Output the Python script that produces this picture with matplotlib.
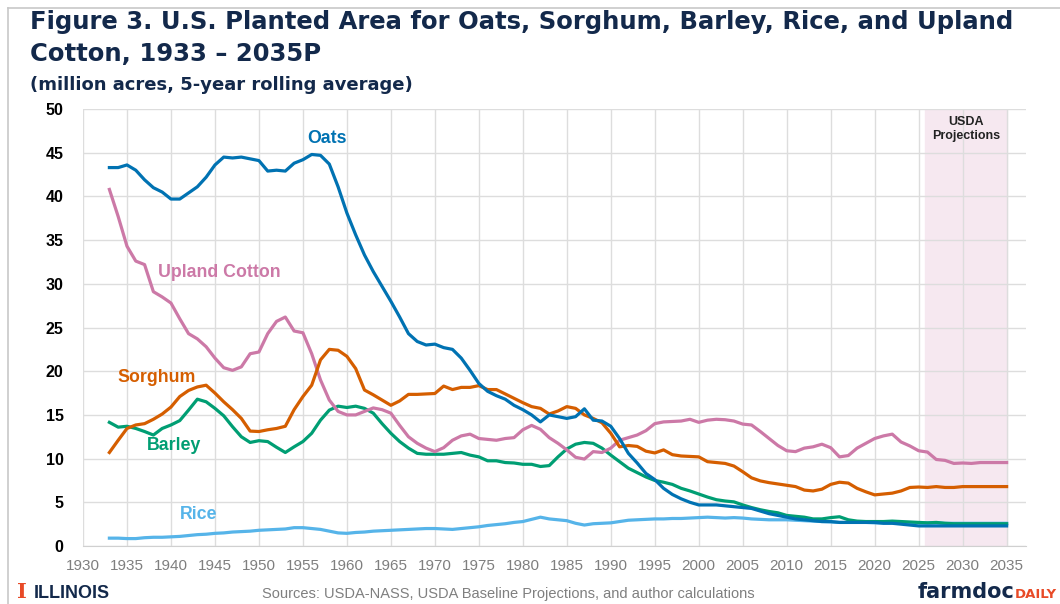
import matplotlib
matplotlib.use("Agg")
import matplotlib.pyplot as plt
from matplotlib.lines import Line2D

years = list(range(1933, 2036))

oats = [43.3, 43.3, 43.6, 43.0, 41.9, 41.0, 40.5, 39.7, 39.7, 40.4,
        41.1, 42.2, 43.6, 44.5, 44.4, 44.5, 44.3, 44.1, 42.9, 43.0,
        42.9, 43.8, 44.2, 44.8, 44.7, 43.7, 41.1, 38.1, 35.6, 33.3,
        31.4, 29.7, 28.0, 26.2, 24.3, 23.4, 23.0, 23.1, 22.7, 22.5,
        21.5, 20.1, 18.6, 17.7, 17.2, 16.8, 16.1, 15.6, 15.0, 14.2,
        15.0, 14.8, 14.6, 14.8, 15.7, 14.4, 14.3, 13.7, 12.3, 10.6,
        9.5, 8.3, 7.6, 6.6, 5.9, 5.4, 5.0, 4.7, 4.7, 4.7,
        4.6, 4.5, 4.4, 4.3, 4.0, 3.7, 3.5, 3.3, 3.1, 3.0,
        2.9, 2.8, 2.8, 2.7, 2.7, 2.7, 2.7, 2.7, 2.6, 2.6,
        2.5, 2.4, 2.3, 2.3, 2.3, 2.3, 2.3, 2.3, 2.3, 2.3,
        2.3, 2.3, 2.3]

cotton = [40.8, 37.7, 34.3, 32.6, 32.2, 29.1, 28.5, 27.8, 26.0, 24.3,
          23.7, 22.8, 21.5, 20.4, 20.1, 20.5, 22.0, 22.2, 24.3, 25.7,
          26.2, 24.6, 24.4, 22.0, 19.0, 16.7, 15.4, 15.0, 15.0, 15.4,
          15.8, 15.6, 15.2, 13.8, 12.5, 11.75, 11.2, 10.8, 11.25, 12.1,
          12.6, 12.8, 12.3, 12.2, 12.1, 12.3, 12.4, 13.3, 13.8, 13.35,
          12.4, 11.75, 11.0, 10.15, 9.95, 10.8, 10.7, 11.2, 12.1, 12.4,
          12.7, 13.2, 14.0, 14.2, 14.25, 14.3, 14.5, 14.15, 14.4, 14.5,
          14.45, 14.3, 13.95, 13.85, 13.1, 12.3, 11.5, 10.9, 10.8, 11.2,
          11.35, 11.65, 11.25, 10.2, 10.35, 11.2, 11.75, 12.3, 12.6, 12.8,
          11.9, 11.45, 10.9, 10.75, 9.9, 9.8, 9.45, 9.5, 9.45, 9.55,
          9.55, 9.55, 9.55]

sorghum = [10.7, 12.1, 13.45, 13.85, 14.0, 14.5, 15.1, 15.9, 17.1, 17.8,
           18.2, 18.4, 17.5, 16.5, 15.6, 14.6, 13.15, 13.1, 13.3, 13.45,
           13.7, 15.6, 17.1, 18.4, 21.3, 22.5, 22.4, 21.7, 20.3, 17.85,
           17.3, 16.7, 16.1, 16.6, 17.35, 17.35, 17.4, 17.45, 18.3, 17.9,
           18.15, 18.15, 18.35, 17.9, 17.9, 17.4, 16.9, 16.4, 15.95, 15.75,
           15.1, 15.45, 15.95, 15.75, 15.0, 14.6, 14.1, 12.9, 11.35, 11.5,
           11.4, 10.85, 10.65, 11.0, 10.45, 10.3, 10.25, 10.2, 9.65, 9.55,
           9.45, 9.15, 8.5, 7.8, 7.45, 7.25, 7.1, 6.95, 6.8, 6.4,
           6.3, 6.5, 7.05, 7.3, 7.2, 6.6, 6.2, 5.85, 5.95, 6.05,
           6.3, 6.7, 6.75, 6.7, 6.8, 6.7, 6.7, 6.8, 6.8, 6.8,
           6.8, 6.8, 6.8]

barley = [14.15, 13.6, 13.7, 13.45, 13.1, 12.7, 13.45, 13.85, 14.35, 15.55,
          16.8, 16.5, 15.75, 14.9, 13.65, 12.5, 11.85, 12.05, 11.95, 11.3,
          10.7, 11.35, 11.95, 12.9, 14.4, 15.55, 16.0, 15.85, 16.0, 15.75,
          15.2, 14.0, 12.9, 11.95, 11.2, 10.6, 10.5, 10.5, 10.5, 10.6,
          10.7, 10.4, 10.2, 9.75, 9.75, 9.55, 9.5, 9.35, 9.35, 9.1,
          9.2, 10.2, 11.1, 11.65, 11.85, 11.75, 11.2, 10.4, 9.65, 8.9,
          8.4, 7.9, 7.5, 7.3, 7.05, 6.6, 6.3, 5.95, 5.6, 5.3,
          5.15, 5.05, 4.7, 4.4, 4.15, 3.95, 3.8, 3.5, 3.4, 3.3,
          3.1, 3.1, 3.25, 3.35, 3.0, 2.85, 2.8, 2.8, 2.8, 2.85,
          2.8, 2.75, 2.7, 2.65, 2.7, 2.6, 2.55, 2.55, 2.55, 2.55,
          2.55, 2.55, 2.55]

rice = [0.9, 0.9, 0.85, 0.85, 0.95, 1.0, 1.0, 1.05, 1.1, 1.2,
        1.3, 1.35, 1.45, 1.5, 1.6, 1.65, 1.7, 1.8, 1.85, 1.9,
        1.95, 2.1, 2.1, 2.0, 1.9, 1.7, 1.5, 1.45, 1.55, 1.6,
        1.7, 1.75, 1.8, 1.85, 1.9, 1.95, 2.0, 2.0, 1.95, 1.9,
        2.0, 2.1, 2.2, 2.35, 2.45, 2.55, 2.7, 2.8, 3.05, 3.3,
        3.1, 3.0, 2.9, 2.6, 2.4, 2.55, 2.6, 2.65, 2.8, 2.95,
        3.0, 3.05, 3.1, 3.1, 3.15, 3.15, 3.2, 3.25, 3.3, 3.25,
        3.2, 3.25, 3.2, 3.1, 3.05, 3.0, 3.0, 3.0, 2.95, 2.9,
        2.85, 2.8, 2.75, 2.7, 2.7, 2.7, 2.7, 2.65, 2.65, 2.65,
        2.6, 2.65, 2.65, 2.65, 2.65, 2.6, 2.6, 2.6, 2.6, 2.6,
        2.6, 2.6, 2.6]

x_ticks = list(range(1930, 2040, 5))
y_ticks = list(range(0, 55, 5))

navy = "#13294B"
orange = "#E84A27"

fig = plt.figure(figsize=(10.6, 6.04), dpi=100)
ax = fig.add_axes([0.0783, 0.096, 0.8896, 0.7235])

# projection band
ax.axvspan(2025.7, 2035, color="#f6e8f0", zorder=0)
ax.text(2030.4, 47.7, "USDA\nProjections", ha="center", va="center",
        fontsize=9, fontweight="bold", family="Liberation Sans", color="#222222")

lw = 2.3
ax.plot(years, rice, color="#56B4E9", lw=lw, zorder=3)
ax.plot(years, barley, color="#009E73", lw=lw, zorder=3)
ax.plot(years, cotton, color="#CC79A7", lw=lw, zorder=3)
ax.plot(years, sorghum, color="#D55E00", lw=lw, zorder=3)
ax.plot(years, oats, color="#0072B2", lw=lw, zorder=4)

lab = dict(fontsize=12.8, fontweight="bold", family="Liberation Sans", ha="center", va="center")
ax.text(1957.7, 46.6, "Oats", color="#0072B2", **lab)
ax.text(1945.5, 31.35, "Upland Cotton", color="#CC79A7", **lab)
ax.text(1938.4, 19.3, "Sorghum", color="#D55E00", **lab)
ax.text(1940.3, 11.45, "Barley", color="#009E73", **lab)
ax.text(1943.2, 3.55, "Rice", color="#56B4E9", **lab)

ax.set_xlim(1930, 2037.2)
ax.set_ylim(0, 50)
ax.set_xticks(x_ticks)
ax.set_yticks(y_ticks)
ax.grid(True, color="#dddddd", lw=1.0, zorder=1)
ax.set_axisbelow(True)
for s in ["top", "right", "left"]:
    ax.spines[s].set_visible(False)
ax.spines["bottom"].set_color("#d0d0d0")
ax.tick_params(length=0)
ax.tick_params(axis="x", pad=9, labelsize=11, labelcolor="#7f7f7f")
ax.tick_params(axis="y", pad=14, labelsize=11.5, labelcolor="black")
for t in ax.get_yticklabels():
    t.set_fontweight("bold")
    t.set_family("Liberation Sans")
for t in ax.get_xticklabels():
    t.set_family("Liberation Sans")

# titles
fig.text(0.028, 0.963, "Figure 3. U.S. Planted Area for Oats, Sorghum, Barley, Rice, and Upland",
         fontsize=17.5, fontweight="bold", color=navy, va="center", ha="left")
fig.text(0.028, 0.911, "Cotton, 1933 \u2013 2035P",
         fontsize=17.5, fontweight="bold", color=navy, va="center", ha="left")
fig.text(0.028, 0.860, "(million acres, 5-year rolling average)",
         fontsize=13, fontweight="bold", color=navy, va="center", ha="left")

# frame lines
fig.add_artist(Line2D([0.0075, 1.0], [0.987, 0.987], color="#c8c8c8", lw=1.2))
fig.add_artist(Line2D([0.0075, 0.0075], [0.0, 0.987], color="#c8c8c8", lw=1.2))

# footer
fig.text(0.0165, 0.010, "I", fontsize=15, fontweight="bold", family="DejaVu Serif",
         color=orange, ha="left", va="baseline")
fig.text(0.032, 0.010, "ILLINOIS", fontsize=13, fontweight="bold", family="Liberation Sans",
         color=navy, ha="left", va="baseline")
fig.text(0.48, 0.010, "Sources: USDA-NASS, USDA Baseline Projections, and author calculations",
         fontsize=10.5, color="#7f7f7f", family="Liberation Sans", ha="center", va="baseline")
fig.text(0.957, 0.010, "farmdoc", fontsize=15, fontweight="bold", color=navy,
         ha="right", va="baseline")
fig.text(0.957, 0.010, "DAILY", fontsize=9.5, fontweight="bold", color=orange,
         ha="left", va="baseline")

fig.savefig("out.png", dpi=100)
